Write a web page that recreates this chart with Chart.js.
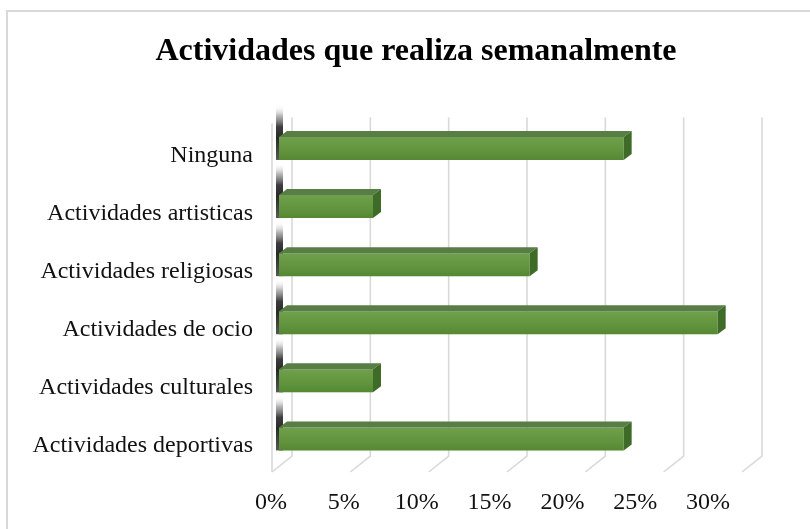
<!DOCTYPE html>
<html>
<head>
<meta charset="utf-8">
<script src="https://cdn.jsdelivr.net/npm/chart.js@4"></script>
<style>
html,body{margin:0;padding:0;background:#fff;}
#wrap{position:relative;width:810px;height:529px;}
</style>
</head>
<body>
<div id="wrap"><canvas id="c" width="810" height="529"></canvas></div>
<script>
const categories = ['Ninguna', 'Actividades artisticas', 'Actividades religiosas', 'Actividades de ocio', 'Actividades culturales', 'Actividades deportivas'];
const percentages = [22, 6, 16, 28, 6, 22];
const tickValues = [0, 5, 10, 15, 20, 25, 30];
const titleText = 'Actividades que realiza semanalmente';

const SERIF = "'Liberation Serif', 'Times New Roman', serif";
const DEPTH_X = 8, DEPTH_Y = 6;

const frame3d = {
  id: 'frame3d',
  beforeDraw(chart) {
    const ctx = chart.ctx;
    ctx.save();
    ctx.fillStyle = '#fff';
    ctx.fillRect(0, 0, chart.width, chart.height);
    ctx.strokeStyle = '#d9d9d9';
    ctx.lineWidth = 2;
    ctx.strokeRect(7, 11, chart.width + 20, chart.height + 20);
    ctx.restore();
  },
  beforeDatasetsDraw(chart) {
    const ctx = chart.ctx;
    const xs = chart.scales.x;
    const area = chart.chartArea;
    ctx.save();
    ctx.strokeStyle = '#d9d9d9';
    ctx.lineWidth = 1.6;
    const topY = area.top - 2, backBottom = area.bottom - 12, frontBottom = area.bottom + 4;
    tickValues.forEach(v => {
      const px = xs.getPixelForValue(v) + 13;
      ctx.beginPath();
      ctx.moveTo(px, topY);
      ctx.lineTo(px, backBottom);
      ctx.lineTo(px - 20, frontBottom);
      ctx.stroke();
    });
    const x0 = xs.getPixelForValue(0);
    ctx.beginPath();
    ctx.moveTo(x0 - 7, topY + 6);
    ctx.lineTo(x0 - 7, frontBottom);
    ctx.stroke();
    const meta = chart.getDatasetMeta(0);
    meta.data.forEach(bar => {
      const h = bar.height;
      const top = bar.y - h / 2;
      const segTop = top - 32;
      const g = ctx.createLinearGradient(0, segTop, 0, top + h);
      g.addColorStop(0, 'rgba(255,255,255,0)');
      g.addColorStop(0.2, 'rgba(150,150,150,0.7)');
      g.addColorStop(0.4, 'rgba(50,50,50,0.95)');
      g.addColorStop(0.6, 'rgba(30,30,30,0.95)');
      g.addColorStop(1, 'rgba(70,70,70,0.9)');
      ctx.fillStyle = g;
      ctx.fillRect(x0 - 3, segTop, 7, top + h - segTop);
    });
    ctx.restore();
  },
  afterDatasetsDraw(chart) {
    const ctx = chart.ctx;
    const meta = chart.getDatasetMeta(0);
    ctx.save();
    meta.data.forEach(bar => {
      const h = bar.height;
      const top = bar.y - h / 2, bottom = bar.y + h / 2;
      const left = bar.base, right = bar.x;
      const g = ctx.createLinearGradient(0, top, 0, bottom);
      g.addColorStop(0, 'rgba(255,255,255,0.12)');
      g.addColorStop(0.35, 'rgba(255,255,255,0.06)');
      g.addColorStop(1, 'rgba(0,0,0,0.08)');
      ctx.fillStyle = g;
      ctx.fillRect(left, top, right - left, h);
      ctx.fillStyle = '#587d45';
      ctx.beginPath();
      ctx.moveTo(left, top);
      ctx.lineTo(right, top);
      ctx.lineTo(right + DEPTH_X, top - DEPTH_Y);
      ctx.lineTo(left + DEPTH_X, top - DEPTH_Y);
      ctx.closePath();
      ctx.fill();
      ctx.fillStyle = '#3f6b28';
      ctx.beginPath();
      ctx.moveTo(right, top);
      ctx.lineTo(right + DEPTH_X, top - DEPTH_Y);
      ctx.lineTo(right + DEPTH_X, bottom - DEPTH_Y);
      ctx.lineTo(right, bottom);
      ctx.closePath();
      ctx.fill();
    });
    ctx.restore();
  }
};

new Chart(document.getElementById('c'), {
  type: 'bar',
  data: {
    labels: categories,
    datasets: [{
      data: percentages,
      backgroundColor: '#5c9336',
      borderWidth: 0,
      categoryPercentage: 1,
      barPercentage: 0.396,
      xAxisID: 'x',
      yAxisID: 'y'
    }]
  },
  options: {
    indexAxis: 'y',
    responsive: false,
    animation: false,
    layout: { padding: { left: 22, right: 0, top: 0, bottom: 12 } },
    plugins: {
      legend: { display: false },
      tooltip: { enabled: false },
      title: {
        display: true,
        text: titleText,
        color: '#000',
        font: { family: SERIF, size: 32, weight: 'bold' },
        padding: { top: 33, bottom: 48 }
      }
    },
    scales: {
      x: {
        type: 'linear',
        display: false,
        min: 0,
        max: 30
      },
      xl: {
        type: 'linear',
        position: 'bottom',
        min: 0.549,
        max: 32.81,
        grid: { display: false, drawTicks: false },
        border: { display: false },
        afterBuildTicks(scale) { scale.ticks = tickValues.map(v => ({ value: v })); },
        afterFit(scale) { scale.height = 49; },
        ticks: {
          padding: 20,
          color: '#111',
          autoSkip: false,
          maxRotation: 0,
          font: { family: SERIF, size: 24 },
          callback: v => v + '%'
        }
      },
      y: {
        type: 'category',
        grid: { display: false, drawTicks: false },
        border: { display: false },
        afterFit(scale) { scale.width = 257; },
        ticks: {
          padding: 26,
          labelOffset: 7,
          color: '#111',
          autoSkip: false,
          font: { family: SERIF, size: 24 }
        }
      },
      yr: {
        type: 'category',
        position: 'right',
        grid: { display: false, drawTicks: false },
        border: { display: false },
        ticks: { display: false },
        afterFit(scale) { scale.width = 61; }
      }
    }
  },
  plugins: [frame3d]
});
</script>
</body>
</html>
